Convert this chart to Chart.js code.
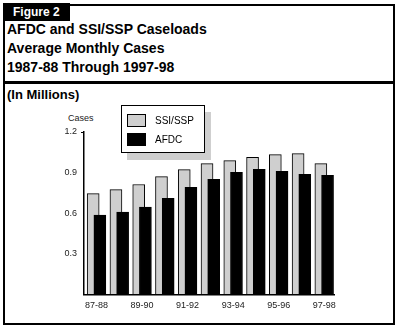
<!DOCTYPE html>
<html>
<head>
<meta charset="utf-8">
<script src="https://cdn.jsdelivr.net/npm/chart.js@4"></script>
<style>
  body { margin: 0; width: 397px; height: 329px; background: #fff; position: relative; overflow: hidden;
         font-family: "Liberation Sans", Arial, sans-serif; color: #000; }
  #frame { position: absolute; left: 3px; top: 4px; width: 388px; height: 317px; border: 2px solid #000; }
  #tab { position: absolute; left: 3px; top: 3px; width: 67px; height: 18px; background: #000; color: #fff;
         font-weight: bold; font-size: 12px; line-height: 18px; padding-left: 10px; box-sizing: border-box; }
  #title { position: absolute; left: 7px; top: 20px; font-weight: bold; font-size: 14px; line-height: 19px; }
  #rule { position: absolute; left: 3px; top: 81px; width: 392px; height: 3px; background: #000; }
  #units { position: absolute; left: 7px; top: 87px; font-weight: bold; font-size: 13px; }
  #cases { position: absolute; left: 68px; top: 113px; font-size: 9px; color: #222; }
  #chart { position: absolute; left: 0; top: 0; }
  #legend { position: absolute; left: 121px; top: 105px; width: 84px; height: 48px; box-sizing: border-box;
            border: 1.5px solid #000; background: #fff; box-shadow: 6px 7px 0 #cfcfcf; }
  .item { position: absolute; left: 5px; height: 13px; font-size: 10px; line-height: 13px; }
  .sw { display: inline-block; width: 19px; height: 13px; box-sizing: border-box; border: 1px solid #000;
        vertical-align: top; margin-right: 9px; }
</style>
</head>
<body>
<div id="frame"></div>
<div id="tab">Figure 2</div>
<div id="title">AFDC and SSI/SSP Caseloads<br>Average Monthly Cases<br>1987-88 Through 1997-98</div>
<div id="rule"></div>
<div id="units">(In Millions)</div>
<div id="cases">Cases</div>
<canvas id="chart" width="397" height="329"></canvas>
<div id="legend"></div>

<script>
const years = ['87-88', '88-89', '89-90', '90-91', '91-92', '92-93', '93-94', '94-95', '95-96', '96-97', '97-98'];
const ssiSsp = [0.745, 0.775, 0.812, 0.871, 0.922, 0.966, 0.989, 1.013, 1.033, 1.040, 0.966];
const afdc = [0.586, 0.608, 0.645, 0.711, 0.792, 0.851, 0.902, 0.925, 0.910, 0.888, 0.880];
const yTicks = [0, 0.3, 0.6, 0.9, 1.2];
const xTicks = [0, 2, 4, 6, 8, 10];

const shift = 0.147;
const tickFont = { family: '"Liberation Sans", Arial, sans-serif', size: 9 };

const datasets = [{
    label: 'SSI/SSP',
    data: ssiSsp.map((v, i) => ({ x: i - shift, y: v })),
    backgroundColor: '#cfcfcf',
    borderColor: '#000',
    borderWidth: 1,
    order: 1
}, {
    label: 'AFDC',
    data: afdc.map((v, i) => ({ x: i + shift, y: v })),
    backgroundColor: '#000',
    borderColor: '#000',
    borderWidth: 1,
    order: 0
}];

const ctx = document.getElementById('chart').getContext('2d');
const chart = new Chart(ctx, {
    type: 'bar',
    data: { datasets: datasets },
    options: {
        responsive: false,
        animation: false,
        grouped: false,
        barThickness: 12,
        layout: { padding: { left: 0, right: 63, top: 132, bottom: 16.5 } },
        plugins: { legend: { display: false }, tooltip: { enabled: false } },
        scales: {
            x: {
                type: 'linear',
                offset: false,
                min: -0.55,
                max: 10.43,
                afterBuildTicks: s => { s.ticks = xTicks.map(v => ({ value: v })); },
                afterFit: s => { s.height = 18; },
                grid: { drawOnChartArea: false, drawTicks: false },
                border: { color: '#000', width: 1.5 },
                ticks: { font: tickFont, color: '#222', padding: 6, maxRotation: 0,
                         callback: v => years[v] }
            },
            y: {
                min: 0,
                max: 1.2,
                afterBuildTicks: s => { s.ticks = yTicks.map(v => ({ value: v })); },
                afterFit: s => { s.width = 84; },
                grid: { drawOnChartArea: false, tickLength: 3,
                        color: c => (c.tick && c.tick.value === 1.2) ? '#000' : 'rgba(0,0,0,0)' },
                border: { color: '#000', width: 1.5 },
                ticks: { font: tickFont, color: '#222', padding: 4,
                         callback: v => v === 0 ? '' : v.toFixed(1) }
            }
        }
    }
});

// legend box with shadow, built from the datasets
const legend = document.getElementById('legend');
datasets.forEach((d, i) => {
    const item = document.createElement('div');
    item.className = 'item';
    item.style.top = (8 + i * 19) + 'px';
    item.innerHTML = '<span class="sw" style="background:' + d.backgroundColor + '"></span>' + d.label;
    legend.appendChild(item);
});
</script>
</body>
</html>
